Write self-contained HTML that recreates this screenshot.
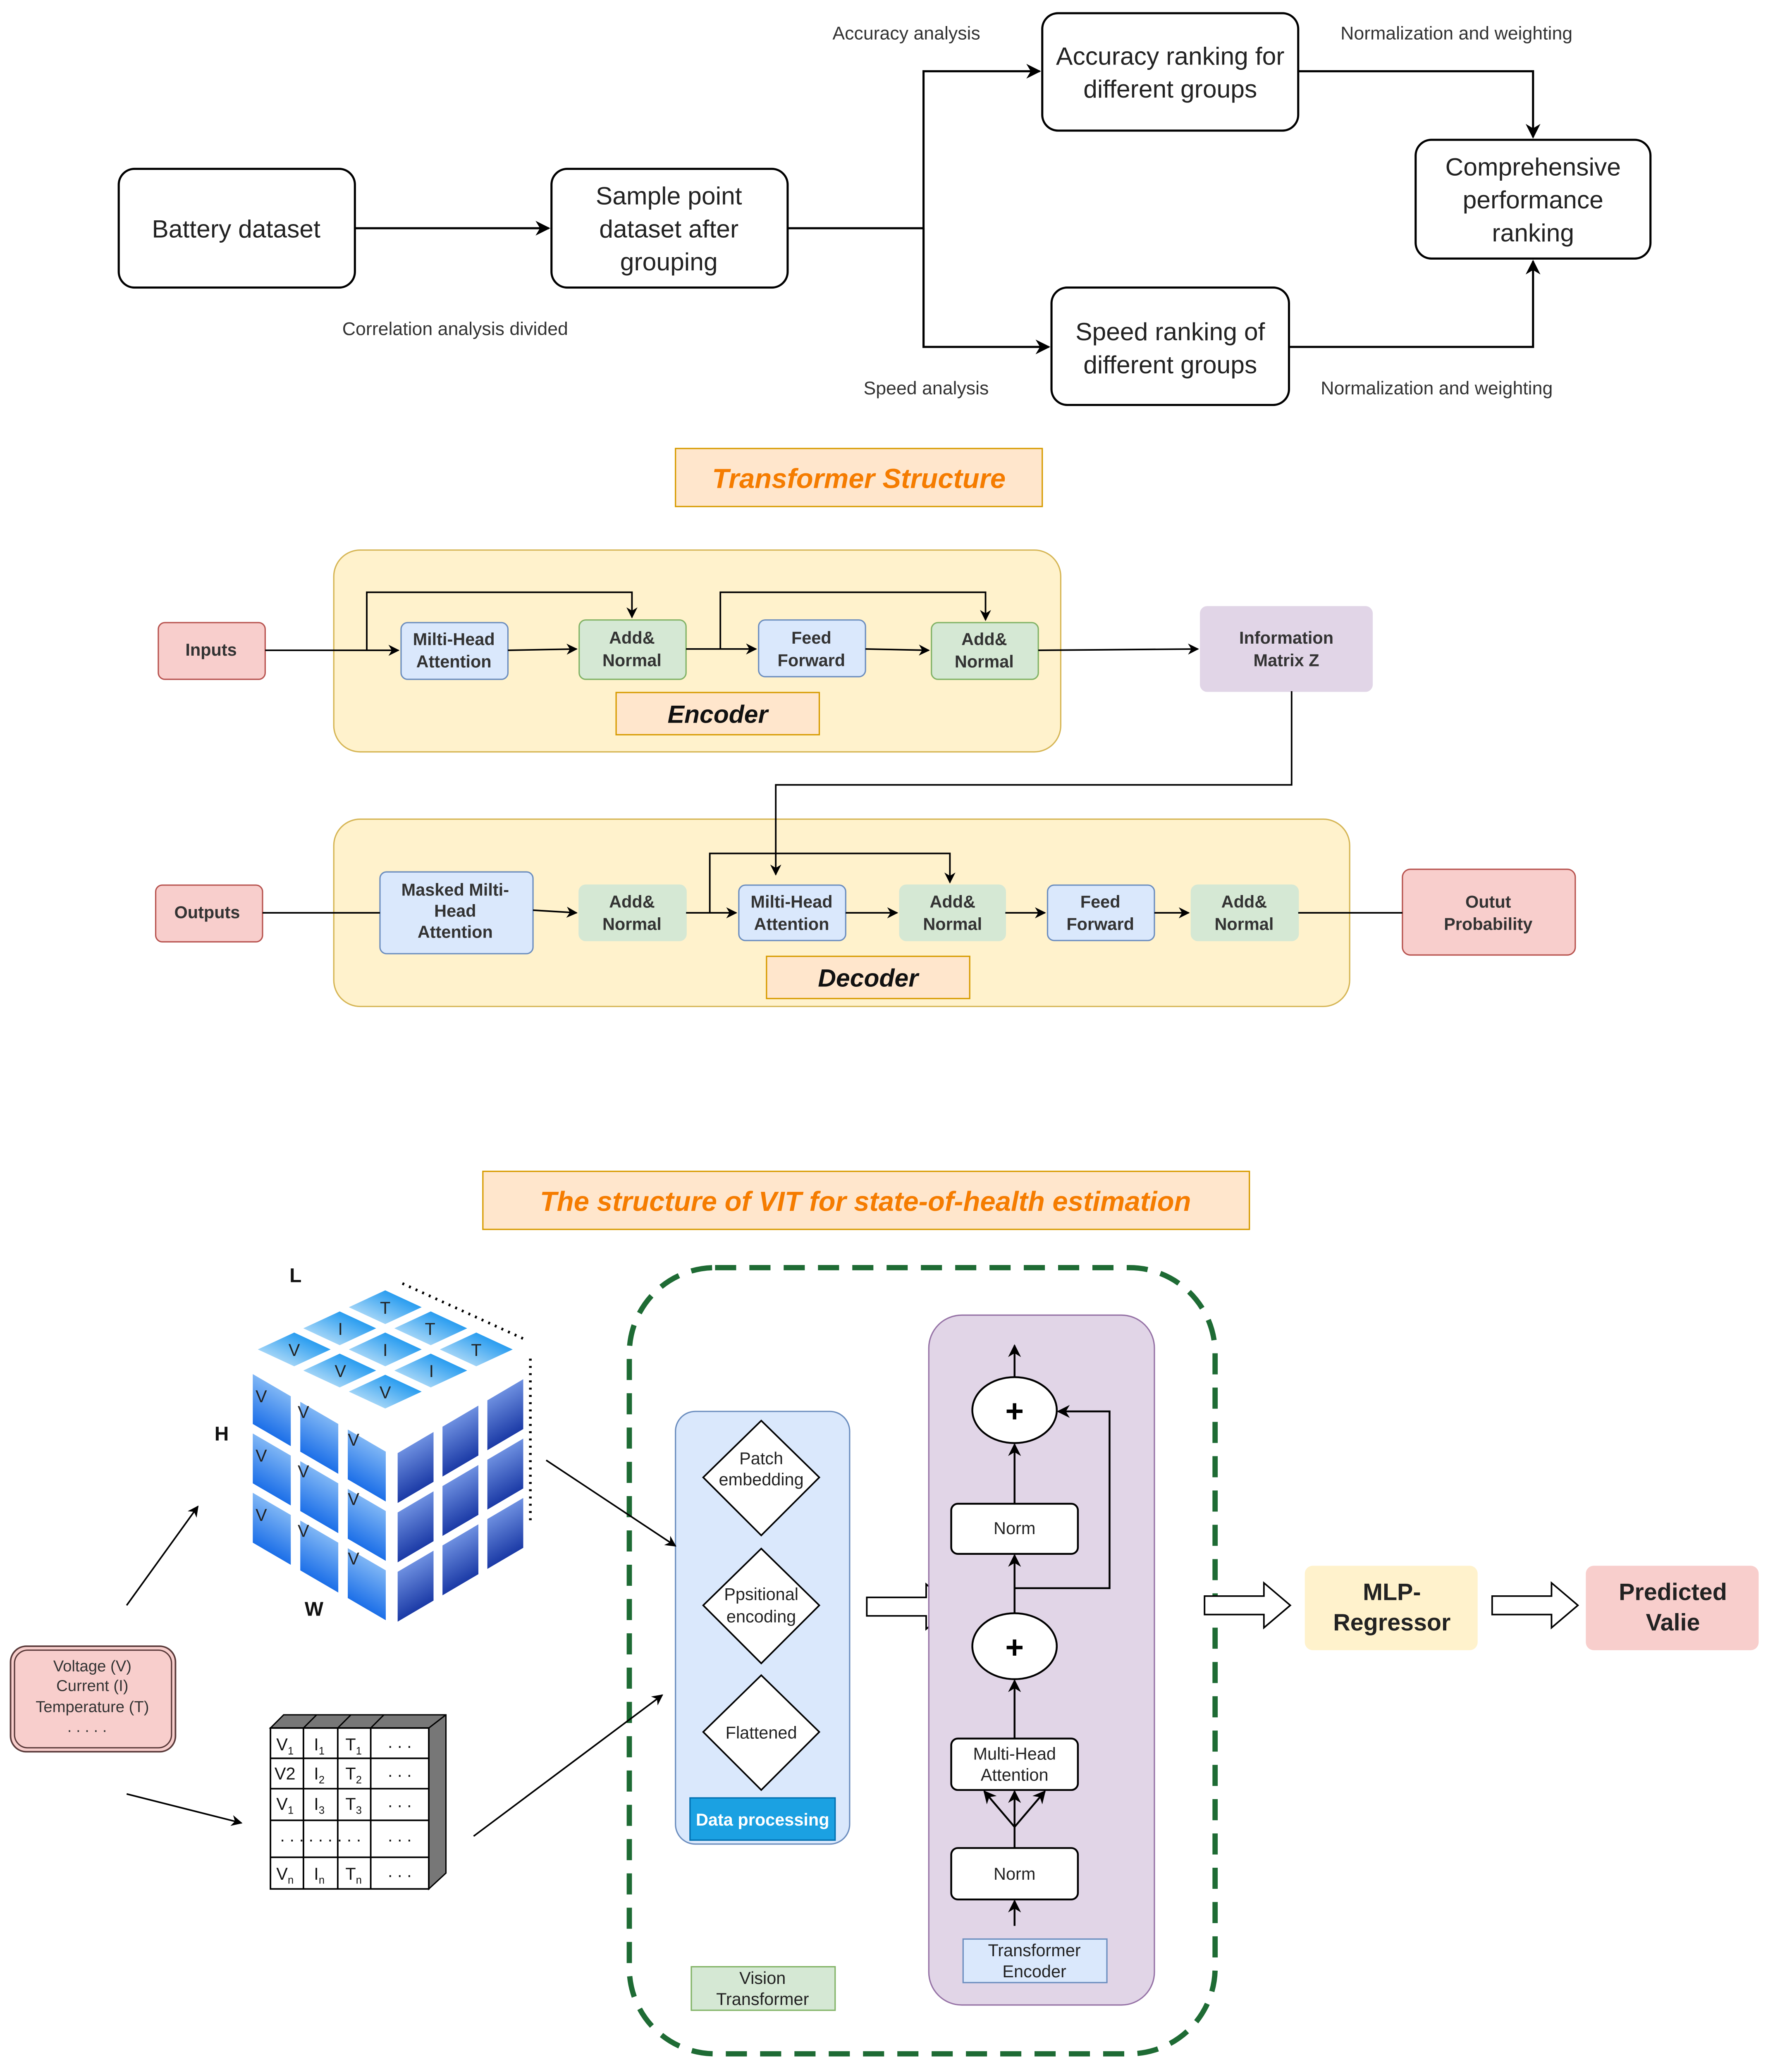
<!DOCTYPE html>
<html><head><meta charset="utf-8"><style>
html,body{margin:0;padding:0;background:#fff;width:100%;height:100%;overflow:hidden;}
svg{display:block;position:fixed;left:0;top:0;width:100vw;height:100vh;}
text{font-family:"Liberation Sans",sans-serif;}
</style></head><body>
<svg viewBox="0 0 1340 1567" preserveAspectRatio="xMinYMin meet" xmlns="http://www.w3.org/2000/svg">
<defs>
<marker id="a" viewBox="0 0 10 10" refX="9" refY="5" markerWidth="7" markerHeight="7" orient="auto-start-reverse"><path d="M0,0 L10,5 L0,10 L3,5 z" fill="#000"/></marker>
<linearGradient id="gl" x1="0" y1="0" x2="0" y2="1"><stop offset="0" stop-color="#7fb6f5"/><stop offset="1" stop-color="#1c6fe8"/></linearGradient>
<linearGradient id="gr" x1="0" y1="0" x2="0" y2="1"><stop offset="0" stop-color="#6d8fe0"/><stop offset="1" stop-color="#1b3aa6"/></linearGradient>
<linearGradient id="gt" x1="0" y1="0" x2="0" y2="1"><stop offset="0" stop-color="#2a9df0"/><stop offset="1" stop-color="#9fd3f7"/></linearGradient>
</defs>

<!-- ===== Top flow ===== -->
<g stroke="#000" stroke-width="1.6" fill="#fff">
<rect x="90" y="128" width="179" height="90" rx="12"/>
<rect x="418" y="128" width="179" height="90" rx="12"/>
<rect x="790" y="10" width="194" height="89" rx="12"/>
<rect x="797" y="218" width="180" height="89" rx="12"/>
<rect x="1073" y="106" width="178" height="90" rx="12"/>
</g>
<g font-size="19" fill="#222" text-anchor="middle">
<text x="179" y="180">Battery dataset</text>
<text x="507" y="155">Sample point</text><text x="507" y="180">dataset after</text><text x="507" y="205">grouping</text>
<text x="887" y="49">Accuracy ranking for</text><text x="887" y="74">different groups</text>
<text x="887" y="258">Speed ranking of</text><text x="887" y="283">different groups</text>
<text x="1162" y="133">Comprehensive</text><text x="1162" y="158">performance</text><text x="1162" y="183">ranking</text>
</g>
<g stroke="#000" stroke-width="1.6" fill="none">
<line x1="269" y1="173" x2="416" y2="173" marker-end="url(#a)"/>
<polyline points="597,173 700,173"/>
<polyline points="700,263 700,54 788,54" marker-end="url(#a)"/>
<polyline points="700,173 700,263 795,263" marker-end="url(#a)"/>
<polyline points="984,54 1162,54 1162,104" marker-end="url(#a)"/>
<polyline points="977,263 1162,263 1162,198" marker-end="url(#a)"/>
</g>
<g font-size="14" fill="#333" text-anchor="middle">
<text x="687" y="30">Accuracy analysis</text>
<text x="1104" y="30">Normalization and weighting</text>
<text x="345" y="254">Correlation analysis divided</text>
<text x="702" y="299">Speed analysis</text>
<text x="1089" y="299">Normalization and weighting</text>
</g>

<!-- ===== Transformer ===== -->
<rect x="512" y="340" width="278" height="44" fill="#ffe6cc" stroke="#d79b00"/>
<text x="651" y="370" font-size="21" font-weight="bold" font-style="italic" fill="#f57c00" text-anchor="middle">Transformer Structure</text>

<rect x="253" y="417" width="551" height="153" rx="20" fill="#fff2cc" stroke="#d6b656"/>
<rect x="253" y="621" width="770" height="142" rx="20" fill="#fff2cc" stroke="#d6b656"/>

<g stroke-width="1">
<rect x="120" y="472" width="81" height="43" rx="5" fill="#f8cecc" stroke="#b85450"/>
<rect x="304" y="472" width="81" height="43" rx="5" fill="#dae8fc" stroke="#6c8ebf"/>
<rect x="439" y="470" width="81" height="45" rx="5" fill="#d5e8d4" stroke="#82b366"/>
<rect x="575" y="470" width="81" height="43" rx="5" fill="#dae8fc" stroke="#6c8ebf"/>
<rect x="706" y="472" width="81" height="43" rx="5" fill="#d5e8d4" stroke="#82b366"/>
<rect x="910" y="460" width="130" height="64" rx="5" fill="#e1d5e7" stroke="#e1d5e7"/>
<rect x="467" y="525" width="154" height="32" fill="#ffe6cc" stroke="#d79b00"/>

<rect x="118" y="671" width="81" height="43" rx="5" fill="#f8cecc" stroke="#b85450"/>
<rect x="288" y="661" width="116" height="62" rx="5" fill="#dae8fc" stroke="#6c8ebf"/>
<rect x="439" y="671" width="81" height="42" rx="5" fill="#d5e8d4" stroke="#d5e8d4"/>
<rect x="560" y="671" width="81" height="42" rx="5" fill="#dae8fc" stroke="#6c8ebf"/>
<rect x="682" y="671" width="80" height="42" rx="5" fill="#d5e8d4" stroke="#d5e8d4"/>
<rect x="794" y="671" width="81" height="42" rx="5" fill="#dae8fc" stroke="#6c8ebf"/>
<rect x="903" y="671" width="81" height="42" rx="5" fill="#d5e8d4" stroke="#d5e8d4"/>
<rect x="1063" y="659" width="131" height="65" rx="6" fill="#f8cecc" stroke="#b85450"/>
<rect x="581" y="725" width="154" height="32" fill="#ffe6cc" stroke="#d79b00"/>
</g>
<g font-size="13" font-weight="bold" fill="#333" text-anchor="middle">
<text x="160" y="497">Inputs</text>
<text x="344" y="489">Milti-Head</text><text x="344" y="506">Attention</text>
<text x="479" y="488">Add&amp;</text><text x="479" y="505">Normal</text>
<text x="615" y="488">Feed</text><text x="615" y="505">Forward</text>
<text x="746" y="489">Add&amp;</text><text x="746" y="506">Normal</text>
<text x="975" y="488">Information</text><text x="975" y="505">Matrix Z</text>
<text x="157" y="696">Outputs</text>
<text x="345" y="679">Masked Milti-</text><text x="345" y="695">Head</text><text x="345" y="711">Attention</text>
<text x="479" y="688">Add&amp;</text><text x="479" y="705">Normal</text>
<text x="600" y="688">Milti-Head</text><text x="600" y="705">Attention</text>
<text x="722" y="688">Add&amp;</text><text x="722" y="705">Normal</text>
<text x="834" y="688">Feed</text><text x="834" y="705">Forward</text>
<text x="943" y="688">Add&amp;</text><text x="943" y="705">Normal</text>
<text x="1128" y="688">Outut</text><text x="1128" y="705">Probability</text>
</g>
<g font-size="19" font-weight="bold" font-style="italic" fill="#111" text-anchor="middle">
<text x="544" y="548">Encoder</text>
<text x="658" y="748">Decoder</text>
</g>
<g stroke="#000" stroke-width="1.2" fill="none">
<line x1="201" y1="493" x2="302" y2="493" marker-end="url(#a)"/>
<polyline points="278,493 278,449 479,449 479,468" marker-end="url(#a)"/>
<line x1="385" y1="493" x2="437" y2="492" marker-end="url(#a)"/>
<line x1="520" y1="492" x2="573" y2="492" marker-end="url(#a)"/>
<polyline points="546,492 546,449 747,449 747,470" marker-end="url(#a)"/>
<line x1="656" y1="492" x2="704" y2="493" marker-end="url(#a)"/>
<line x1="787" y1="493" x2="908" y2="492" marker-end="url(#a)"/>
<polyline points="979,524 979,595 588,595 588,663" marker-end="url(#a)"/>
<line x1="199" y1="692" x2="288" y2="692"/>
<line x1="404" y1="690" x2="437" y2="692" marker-end="url(#a)"/>
<line x1="520" y1="692" x2="558" y2="692" marker-end="url(#a)"/>
<polyline points="538,692 538,647 720,647 720,669" marker-end="url(#a)"/>
<line x1="641" y1="692" x2="680" y2="692" marker-end="url(#a)"/>
<line x1="762" y1="692" x2="792" y2="692" marker-end="url(#a)"/>
<line x1="875" y1="692" x2="901" y2="692" marker-end="url(#a)"/>
<line x1="984" y1="692" x2="1063" y2="692"/>
</g>

<!-- ===== VIT ===== -->
<rect x="366" y="888" width="581" height="44" fill="#ffe6cc" stroke="#d79b00"/>
<text x="656" y="918" font-size="21" font-weight="bold" font-style="italic" fill="#f57c00" text-anchor="middle">The structure of VIT for state-of-health estimation</text>

<rect x="477" y="961" width="444" height="596" rx="65" fill="none" stroke="#1e6b34" stroke-width="4" stroke-dasharray="16,10"/>

<rect x="512" y="1070" width="132" height="328" rx="15" fill="#dae8fc" stroke="#6c8ebf"/>
<g fill="#fff" stroke="#000" stroke-width="1.2">
<polygon points="577,1077 621,1120 577,1164 533,1120"/>
<polygon points="577,1174 621,1217 577,1261 533,1217"/>
<polygon points="577,1270 621,1313 577,1357 533,1313"/>
</g>
<g font-size="13" fill="#222" text-anchor="middle">
<text x="577" y="1110">Patch</text><text x="577" y="1126">embedding</text>
<text x="577" y="1213">Ppsitional</text><text x="577" y="1230">encoding</text>
<text x="577" y="1318">Flattened</text>
</g>
<rect x="523" y="1363" width="110" height="32" fill="#1ba1e2" stroke="#006eaf"/>
<text x="578" y="1384" font-size="13" font-weight="bold" fill="#fff" text-anchor="middle">Data processing</text>

<polygon points="657,1211 702,1211 702,1201 722,1218 702,1235 702,1225 657,1225" fill="#fff" stroke="#000" stroke-width="1.2"/>

<rect x="704" y="997" width="171" height="523" rx="25" fill="#e1d5e7" stroke="#9673a6"/>
<g fill="#fff" stroke="#000" stroke-width="1.4">
<ellipse cx="769" cy="1069" rx="32" ry="25"/>
<ellipse cx="769" cy="1248" rx="32" ry="25"/>
<rect x="721" y="1140" width="96" height="38" rx="5"/>
<rect x="721" y="1318" width="96" height="39" rx="5"/>
<rect x="721" y="1401" width="96" height="39" rx="5"/>
</g>
<g font-size="24" font-weight="bold" text-anchor="middle"><text x="769" y="1078">+</text><text x="769" y="1257">+</text></g>
<g font-size="13" fill="#222" text-anchor="middle">
<text x="769" y="1163">Norm</text>
<text x="769" y="1334">Multi-Head</text><text x="769" y="1350">Attention</text>
<text x="769" y="1425">Norm</text>
</g>
<rect x="730" y="1470" width="109" height="33" fill="#dae8fc" stroke="#6c8ebf"/>
<g font-size="13" fill="#222" text-anchor="middle"><text x="784" y="1483">Transformer</text><text x="784" y="1499">Encoder</text></g>
<g stroke="#000" stroke-width="1.4" fill="none">
<line x1="769" y1="1460" x2="769" y2="1441" marker-end="url(#a)"/>
<line x1="769" y1="1401" x2="769" y2="1358" marker-end="url(#a)"/>
<polyline points="769,1385 746,1358" marker-end="url(#a)"/>
<polyline points="769,1385 792,1358" marker-end="url(#a)"/>
<line x1="769" y1="1318" x2="769" y2="1274" marker-end="url(#a)"/>
<line x1="769" y1="1223" x2="769" y2="1179" marker-end="url(#a)"/>
<line x1="769" y1="1140" x2="769" y2="1095" marker-end="url(#a)"/>
<line x1="769" y1="1044" x2="769" y2="1020" marker-end="url(#a)"/>
<polyline points="769,1204 841,1204 841,1070 802,1070" marker-end="url(#a)"/>
</g>

<rect x="524" y="1491" width="109" height="33" fill="#d5e8d4" stroke="#82b366"/>
<g font-size="13" fill="#222" text-anchor="middle"><text x="578" y="1504">Vision</text><text x="578" y="1520">Transformer</text></g>

<polygon points="913,1210 958,1210 958,1200 978,1217 958,1234 958,1224 913,1224" fill="#fff" stroke="#000" stroke-width="1.2"/>
<rect x="989" y="1187" width="131" height="64" rx="6" fill="#fff2cc"/>
<g font-size="18" font-weight="bold" fill="#222" text-anchor="middle"><text x="1055" y="1213">MLP-</text><text x="1055" y="1236">Regressor</text></g>
<polygon points="1131,1210 1176,1210 1176,1200 1196,1217 1176,1234 1176,1224 1131,1224" fill="#fff" stroke="#000" stroke-width="1.2"/>
<rect x="1202" y="1187" width="131" height="64" rx="6" fill="#f8cecc"/>
<g font-size="18" font-weight="bold" fill="#222" text-anchor="middle"><text x="1268" y="1213">Predicted</text><text x="1268" y="1236">Valie</text></g>

<!-- Voltage box -->
<rect x="8" y="1248" width="125" height="80" rx="12" fill="#f8cecc" stroke="#5a3a3a" stroke-width="1.2"/>
<rect x="11" y="1251" width="119" height="74" rx="10" fill="none" stroke="#5a3a3a" stroke-width="1"/>
<g font-size="12" fill="#333" text-anchor="middle">
<text x="70" y="1267">Voltage (V)</text><text x="70" y="1282">Current (I)</text><text x="70" y="1298">Temperature (T)</text><text x="66" y="1313">. . . . .</text>
</g>
<g stroke="#000" stroke-width="1.2" fill="none">
<line x1="96" y1="1217" x2="150" y2="1142" marker-end="url(#a)"/>
<line x1="96" y1="1360" x2="183" y2="1382" marker-end="url(#a)"/>
<line x1="414" y1="1107" x2="512" y2="1172" marker-end="url(#a)"/>
<line x1="359" y1="1392" x2="502" y2="1285" marker-end="url(#a)"/>
</g>

<!-- Cube -->
<g transform="matrix(34.5,16,-34.5,16,292,975)" fill="url(#gt)">
<rect x="0.1" y="0.1" width="0.8" height="0.8"/><rect x="1.1" y="0.1" width="0.8" height="0.8"/><rect x="2.1" y="0.1" width="0.8" height="0.8"/>
<rect x="0.1" y="1.1" width="0.8" height="0.8"/><rect x="1.1" y="1.1" width="0.8" height="0.8"/><rect x="2.1" y="1.1" width="0.8" height="0.8"/>
<rect x="0.1" y="2.1" width="0.8" height="0.8"/><rect x="1.1" y="2.1" width="0.8" height="0.8"/><rect x="2.1" y="2.1" width="0.8" height="0.8"/>
</g>
<g transform="matrix(36,21,0,45,188,1036)" fill="url(#gl)">
<rect x="0.1" y="0.08" width="0.8" height="0.84"/><rect x="1.1" y="0.08" width="0.8" height="0.84"/><rect x="2.1" y="0.08" width="0.8" height="0.84"/>
<rect x="0.1" y="1.08" width="0.8" height="0.84"/><rect x="1.1" y="1.08" width="0.8" height="0.84"/><rect x="2.1" y="1.08" width="0.8" height="0.84"/>
<rect x="0.1" y="2.08" width="0.8" height="0.84"/><rect x="1.1" y="2.08" width="0.8" height="0.84"/><rect x="2.1" y="2.08" width="0.8" height="0.84"/>
</g>
<g transform="matrix(34,-20,0,45,298,1100)" fill="url(#gr)">
<rect x="0.1" y="0.08" width="0.8" height="0.84"/><rect x="1.1" y="0.08" width="0.8" height="0.84"/><rect x="2.1" y="0.08" width="0.8" height="0.84"/>
<rect x="0.1" y="1.08" width="0.8" height="0.84"/><rect x="1.1" y="1.08" width="0.8" height="0.84"/><rect x="2.1" y="1.08" width="0.8" height="0.84"/>
<rect x="0.1" y="2.08" width="0.8" height="0.84"/><rect x="1.1" y="2.08" width="0.8" height="0.84"/><rect x="2.1" y="2.08" width="0.8" height="0.84"/>
</g>
<g font-size="13" fill="#222" text-anchor="middle">
<text x="292" y="996">T</text><text x="326" y="1012">T</text><text x="361" y="1028">T</text>
<text x="258" y="1012">I</text><text x="292" y="1028">I</text><text x="327" y="1044">I</text>
<text x="223" y="1028">V</text><text x="258" y="1044">V</text><text x="292" y="1060">V</text>
<text x="198" y="1063">V</text><text x="198" y="1108">V</text><text x="198" y="1153">V</text>
<text x="230" y="1075">V</text><text x="230" y="1120">V</text><text x="230" y="1165">V</text>
<text x="268" y="1096">V</text><text x="268" y="1141">V</text><text x="268" y="1186">V</text>
</g>
<line x1="305" y1="973" x2="397" y2="1015" stroke="#000" stroke-width="2" stroke-dasharray="1.5,4"/>
<line x1="402" y1="1030" x2="402" y2="1155" stroke="#000" stroke-width="2" stroke-dasharray="1.5,4"/>
<g font-size="15" font-weight="bold" fill="#111" text-anchor="middle">
<text x="224" y="972">L</text><text x="168" y="1092">H</text><text x="238" y="1225">W</text>
</g>

<!-- Table -->
<polygon points="205,1310 215,1300 338,1300 338,1420 325,1432 325,1310" fill="#777" stroke="#000" stroke-width="1"/>
<g stroke="#000" stroke-width="1"><line x1="230" y1="1310" x2="240" y2="1300"/><line x1="256" y1="1310" x2="266" y2="1300"/><line x1="281" y1="1310" x2="291" y2="1300"/><line x1="325" y1="1310" x2="338" y2="1300"/></g>
<rect x="205" y="1310" width="120" height="122" fill="#fff" stroke="#000" stroke-width="1.2"/>
<g stroke="#000" stroke-width="1.2">
<line x1="230" y1="1310" x2="230" y2="1432"/><line x1="256" y1="1310" x2="256" y2="1432"/><line x1="281" y1="1310" x2="281" y2="1432"/>
<line x1="205" y1="1333" x2="325" y2="1333"/><line x1="205" y1="1356" x2="325" y2="1356"/><line x1="205" y1="1380" x2="325" y2="1380"/><line x1="205" y1="1408" x2="325" y2="1408"/>
</g>
<g font-size="13" fill="#111" text-anchor="middle">
<text x="216" y="1327">V<tspan font-size="8" dy="3">1</tspan></text>
<text x="242" y="1327">I<tspan font-size="8" dy="3">1</tspan></text>
<text x="268" y="1327">T<tspan font-size="8" dy="3">1</tspan></text>
<text x="303" y="1325">. . .</text>
<text x="216" y="1349">V2</text>
<text x="242" y="1349">I<tspan font-size="8" dy="3">2</tspan></text>
<text x="268" y="1349">T<tspan font-size="8" dy="3">2</tspan></text>
<text x="303" y="1347">. . .</text>
<text x="216" y="1372">V<tspan font-size="8" dy="3">1</tspan></text>
<text x="242" y="1372">I<tspan font-size="8" dy="3">3</tspan></text>
<text x="268" y="1372">T<tspan font-size="8" dy="3">3</tspan></text>
<text x="303" y="1370">. . .</text>
<text x="243" y="1396">. . . . . . . . .</text>
<text x="303" y="1396">. . .</text>
<text x="216" y="1425">V<tspan font-size="8" dy="3">n</tspan></text>
<text x="242" y="1425">I<tspan font-size="8" dy="3">n</tspan></text>
<text x="268" y="1425">T<tspan font-size="8" dy="3">n</tspan></text>
<text x="303" y="1423">. . .</text>
</g>
</svg>
</body></html>
